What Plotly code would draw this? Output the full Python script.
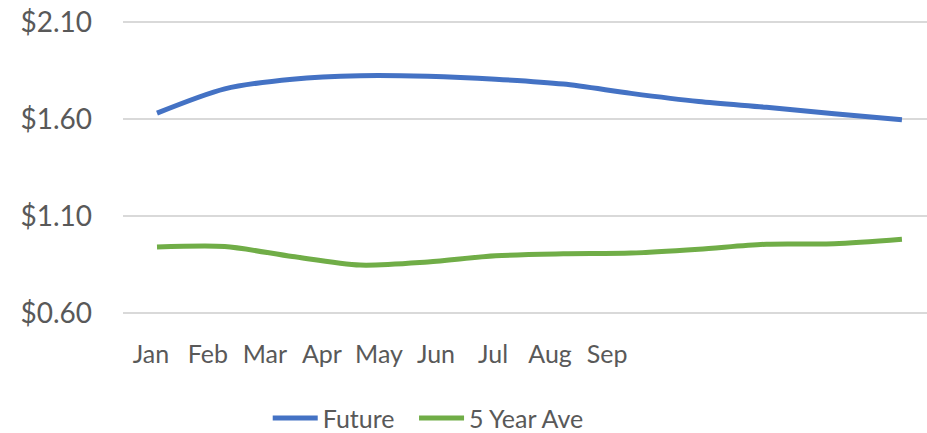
import plotly.graph_objects as go

# monthly points (12), only first nine months labelled on the axis
months = ["Jan", "Feb", "Mar", "Apr", "May", "Jun", "Jul", "Aug", "Sep", "Oct", "Nov", "Dec"]
tick_labels = ["Jan", "Feb", "Mar", "Apr", "May", "Jun", "Jul", "Aug", "Sep"]
future = [1.63, 1.755, 1.805, 1.823, 1.82, 1.805, 1.78, 1.732, 1.69, 1.66, 1.627, 1.596]
five_year_ave = [0.94, 0.943, 0.891, 0.847, 0.863, 0.895, 0.905, 0.909, 0.929, 0.955, 0.957, 0.98]
y_ticks = [0.60, 1.10, 1.60, 2.10]

font = "Lato"
text_color = "#595959"

x = list(range(len(months)))
# tick labels are spaced a bit tighter than the data points
label_step = 0.842
label_pos = [-0.09 + label_step * i for i in range(len(tick_labels))]

fig = go.Figure()
fig.add_trace(go.Scatter(x=x, y=future, name="Future", mode="lines",
                         line=dict(color="#4472C4", width=5, shape="spline", smoothing=0.8),
                         text=months, hoverinfo="text+y", legend="legend"))
fig.add_trace(go.Scatter(x=x, y=five_year_ave, name="5 Year Ave", mode="lines",
                         line=dict(color="#70AD47", width=5, shape="spline", smoothing=0.8),
                         text=months, hoverinfo="text+y", legend="legend2"))

legend_style = dict(orientation="h", xanchor="left", y=-0.35, yanchor="middle",
                    itemwidth=45,
                    font=dict(size=25, color=text_color), bgcolor="rgba(0,0,0,0)")

fig.update_layout(
    width=927, height=433,
    margin=dict(l=123, r=0, t=20, b=118, autoexpand=False),
    plot_bgcolor="white", paper_bgcolor="white",
    font=dict(family=font, size=28, color=text_color),
    showlegend=True,
    legend=dict(x=0.18, **legend_style),
    legend2=dict(x=0.362, **legend_style),
    xaxis=dict(range=[-0.502, 11.37], tickvals=label_pos, ticktext=tick_labels,
               tickfont=dict(size=25),
               showgrid=False, zeroline=False, showline=False, ticks="",
               ticklabelstandoff=22, fixedrange=True),
    yaxis=dict(range=[0.59, 2.11], tickvals=y_ticks,
               ticktext=["$%.2f" % v for v in y_ticks],
               showgrid=True, gridcolor="#D9D9D9", gridwidth=1.5,
               zeroline=False, showline=False, ticks="",
               ticklabelstandoff=30, fixedrange=True),
)

fig.write_html("out.html", config={"displayModeBar": False},
               post_script="document.body.style.margin='0';")
